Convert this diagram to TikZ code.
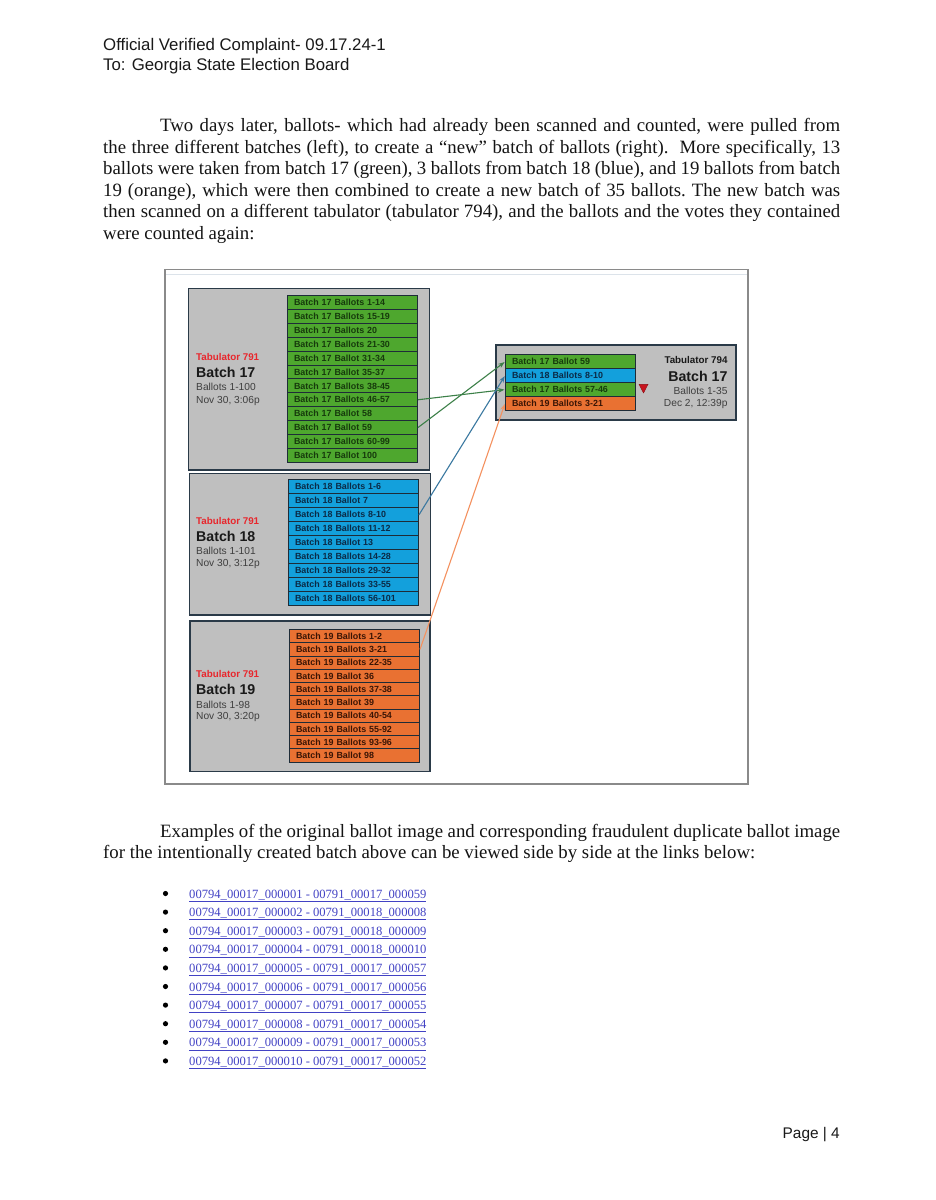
\documentclass[tikz,border=0pt]{standalone}
\usepackage{fontspec}
\setmainfont{Liberation Serif}
\newfontfamily\sansf{Liberation Sans}
\usetikzlibrary{arrows.meta}
\definecolor{grn}{HTML}{4EA72E}
\definecolor{grntxt}{HTML}{163A0C}
\definecolor{blu}{HTML}{13A0DC}
\definecolor{blutxt}{HTML}{0B2A46}
\definecolor{org}{HTML}{E97132}
\definecolor{orgtxt}{HTML}{3A1505}
\definecolor{rowb}{HTML}{1E2C38}
\definecolor{boxb}{HTML}{2A3A48}
\definecolor{boxgray}{HTML}{BFBFBF}
\definecolor{tabred}{HTML}{E8262C}
\definecolor{labgray}{HTML}{3F3F3F}
\definecolor{garr}{HTML}{3C8048}
\definecolor{barr}{HTML}{3A78A0}
\definecolor{oarr}{HTML}{F4915F}
\definecolor{framec}{HTML}{8A8A8A}
\definecolor{framel}{HTML}{DCE3EA}
\definecolor{linkc}{HTML}{4242C4}
\definecolor{tri}{HTML}{C8141E}
\newcommand\myfs[1]{\fontsize{#1}{#1}\selectfont}
\newcommand\jl[2]{\hbox to #1{\frenchspacing\spaceskip=0.25em plus 1fil minus 0.12em\relax #2}}
\begin{document}
\begin{tikzpicture}[x=1pt,y=-1pt,
 ballotrow/.style={draw=rowb, line width=1pt, anchor=north west, inner xsep=6.5pt, inner ysep=0pt, text width=117pt, align=left, text height=6.3pt, text depth=0pt, font=\sansf\bfseries\myfs{8.9}},
 greenrow/.style={ballotrow, fill=grn, text=grntxt},
 bluerow/.style={ballotrow, fill=blu, text=blutxt},
 orangerow/.style={ballotrow, fill=org, text=orgtxt},
 gbox/.style={draw=boxb, line width=1.6pt, fill=boxgray, anchor=north west, inner sep=0pt},
 lab/.style={anchor=base west, inner sep=0pt, font=\sansf\myfs{10.2}, text=labgray},
 tab/.style={anchor=base west, inner sep=0pt, font=\sansf\bfseries\myfs{9.8}, text=tabred},
 bat/.style={anchor=base west, inner sep=0pt, font=\sansf\bfseries\myfs{14.2}, text=black!90},
 para/.style={anchor=base west, inner sep=0pt, font=\myfs{18.8}, text=black!92},
 hdr/.style={anchor=base west, inner sep=0pt, font=\sansf\myfs{16.8}, text=black!90},
 linktxt/.style={anchor=base west, inner sep=0pt, font=\myfs{12.6}, text=linkc},
 bul/.style={circle, fill=black, inner sep=0pt, minimum size=5.2pt},
 arr/.style={-{Stealth[length=6.5pt,width=4.8pt]}, line width=1.1pt, shorten >=0.5pt},
]
\useasboundingbox[fill=white] (0,0) rectangle (935,1200);

% header
\node[hdr] (h1) at (103,50) {Official Verified Complaint- 09.17.24-1};
\node[hdr] (h2) at (103,70.7) {To: Georgia State Election Board};

% first paragraph
\node[para] (p1) at (160,131.5) {\jl{680pt}{Two days later, ballots- which had already been scanned and counted, were pulled from}};
\node[para] (p2) at (103,153) {\jl{737pt}{the three different batches (left), to create a “new” batch of ballots (right).\ \ More specifically, 13}};
\node[para] (p3) at (103,174.5) {\jl{737pt}{ballots were taken from batch 17 (green), 3 ballots from batch 18 (blue), and 19 ballots from batch}};
\node[para] (p4) at (103,196) {\jl{737pt}{19 (orange), which were then combined to create a new batch of 35 ballots. The new batch was}};
\node[para] (p5) at (103,217.5) {\jl{737pt}{then scanned on a different tabulator (tabulator 794), and the ballots and the votes they contained}};
\node[para] (p6) at (103,239) {were counted again:};

% diagram frame
\draw[framec, line width=1.2pt] (165,269.5) rectangle (748,784);
\draw[framel, line width=1pt] (166,274) -- (747,274);

% batch boxes
\node[gbox, minimum width=241pt, minimum height=181.5pt] (box17) at (187.5,287.7) {};
\node[gbox, minimum width=241pt, minimum height=141.5pt] (box18) at (188.5,472.5) {};
\node[gbox, minimum width=240pt, minimum height=150.5pt] (box19) at (189,620) {};
\node[gbox, minimum width=240pt, minimum height=75pt] (boxR) at (495,344) {};

% batch 17 rows
\foreach \txt [count=\i] in {Ballots 1-14, Ballots 15-19, Ballots 20, Ballots 21-30, Ballot 31-34, Ballot 35-37, Ballots 38-45, Ballots 46-57, Ballot 58, Ballot 59, Ballots 60-99, Ballot 100}
  \node[greenrow, minimum height=13.9pt] (b17r\i) at (287,{295+(\i-1)*13.9}) {Batch 17 \txt};
% batch 18 rows
\foreach \txt [count=\i] in {Ballots 1-6, Ballot 7, Ballots 8-10, Ballots 11-12, Ballot 13, Ballots 14-28, Ballots 29-32, Ballots 33-55, Ballots 56-101}
  \node[bluerow, minimum height=14pt] (b18r\i) at (288,{479.3+(\i-1)*14}) {Batch 18 \txt};
% batch 19 rows
\foreach \txt [count=\i] in {Ballots 1-2, Ballots 3-21, Ballots 22-35, Ballot 36, Ballots 37-38, Ballot 39, Ballots 40-54, Ballots 55-92, Ballots 93-96, Ballot 98}
  \node[orangerow, minimum height=13.27pt] (b19r\i) at (289,{629+(\i-1)*13.27}) {Batch 19 \txt};
% new batch rows
\node[greenrow, minimum height=13.9pt] (rr1) at (505,354.3) {Batch 17 Ballot 59};
\node[bluerow, minimum height=13.9pt] (rr2) at (505,368.2) {Batch 18 Ballots 8-10};
\node[greenrow, minimum height=13.9pt] (rr3) at (505,382.1) {Batch 17 Ballots 57-46};
\node[orangerow, minimum height=13.9pt] (rr4) at (505,396) {Batch 19 Ballots 3-21};

% left labels
\node[tab] (t17) at (196,360) {Tabulator 791};
\node[bat] (n17) at (196,377.3) {Batch 17};
\node[lab] (r17) at (196,390.7) {Ballots 1-100};
\node[lab] (d17) at (196,403.3) {Nov 30, 3:06p};

\node[tab] (t18) at (196,524.3) {Tabulator 791};
\node[bat] (n18) at (196,541.7) {Batch 18};
\node[lab] (r18) at (196,554.7) {Ballots 1-101};
\node[lab] (d18) at (196,566.7) {Nov 30, 3:12p};

\node[tab] (t19) at (196,677) {Tabulator 791};
\node[bat] (n19) at (196,694.3) {Batch 19};
\node[lab] (r19) at (196,708.3) {Ballots 1-98};
\node[lab] (d19) at (196,719.3) {Nov 30, 3:20p};

% right labels
\node[tab, anchor=base east, text=black!90] (tR) at (727.7,363) {Tabulator 794};
\node[bat, anchor=base east] (nR) at (727.7,381) {Batch 17};
\node[lab, anchor=base east] (rR) at (727.7,394.3) {Ballots 1-35};
\node[lab, anchor=base east] (dR) at (727.7,406.7) {Dec 2, 12:39p};

% red triangle
\filldraw[fill=tri, draw=tri!70!black, line width=0.4pt] (639,384.3) -- (648,384.3) -- (643.5,393) -- cycle;

% connectors
\draw[arr, garr] (b17r8.east) -- (rr3.west);
\draw[arr, garr] (b17r10.east) -- (rr1.west);
\draw[arr, barr] (b18r3.east) -- (rr2.west);
\draw[arr, oarr] (b19r2.east) -- (rr4.west);

% second paragraph
\node[para] (e1) at (160,837) {\jl{680pt}{Examples of the original ballot image and corresponding fraudulent duplicate ballot image}};
\node[para] (e2) at (103,858.5) {for the intentionally created batch above can be viewed side by side at the links below:};

% links
\foreach \txt [count=\i] in {00794\_00017\_000001 - 00791\_00017\_000059, 00794\_00017\_000002 - 00791\_00018\_000008, 00794\_00017\_000003 - 00791\_00018\_000009, 00794\_00017\_000004 - 00791\_00018\_000010, 00794\_00017\_000005 - 00791\_00017\_000057, 00794\_00017\_000006 - 00791\_00017\_000056, 00794\_00017\_000007 - 00791\_00017\_000055, 00794\_00017\_000008 - 00791\_00017\_000054, 00794\_00017\_000009 - 00791\_00017\_000053, 00794\_00017\_000010 - 00791\_00017\_000052}
{
  \node[bul] (bl\i) at (165.5,{893.5+(\i-1)*18.6}) {};
  \node[linktxt] (lk\i) at (189,{898+(\i-1)*18.6}) {\underline{\txt}};
}

% footer
\node[hdr, anchor=base east, font=\sansf\myfs{15.4}] (pg) at (840,1138.5) {Page | 4};
\end{tikzpicture}
\end{document}
